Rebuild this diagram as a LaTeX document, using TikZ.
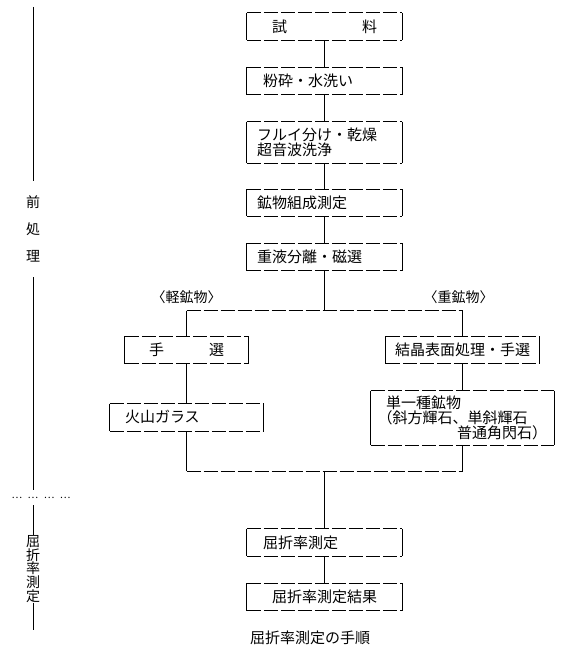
\documentclass[tikz,border=0pt]{standalone}
\usepackage{fontspec}
\newfontfamily\jpfont{Noto Sans CJK JP}
\usetikzlibrary{positioning}

\begin{document}
\begin{tikzpicture}[
    x=1pt, y=-1pt,
    every node/.style={font=\jpfont\fontsize{15}{12}\selectfont},
    node distance = 27pt,
    mbox/.style ={inner xsep=10pt, inner ysep=0pt, text width=135pt,
                  minimum height=27pt, align=left},
    sbox/.style ={inner ysep=0pt, minimum height=27pt, align=left},
    side/.style ={inner sep=0pt, align=center,
                  font=\jpfont\fontsize{14}{27}\selectfont},
    tag/.style  ={inner sep=0pt, font=\jpfont\fontsize{14}{14}\selectfont},
    flow/.style ={line width=0.9pt},
    dline/.style={line width=0.9pt, dash pattern=on 14pt off 3pt},
]
\useasboundingbox (0,0) rectangle (568,658);

% main column
\node[mbox] (smp) at (324.5,26.5) {　試　　　　　料};
\node[mbox, below=of smp]   (crush) {\hspace*{6pt}粉砕・水洗い};
\node[mbox, below=of crush, minimum height=41pt] (sift)
     {フルイ分け・乾燥\\超音波洗浄};
\node[mbox, below=26pt of sift] (comp) {鉱物組成測定};
\node[mbox, below=of comp]  (sep)  {重液分離・磁選};
\coordinate[below=40pt of sep] (fork);

% two branches
\node[tag] (light) at (186.5,297) {〈軽鉱物〉};
\node[tag] (heavy) at (458.5,297) {〈重鉱物〉};
\node[sbox, text width=123pt, inner xsep=0pt, align=center] (hand)
     at (186.5,350) {手　　　選};
\node[sbox, text width=123pt, inner xsep=15pt, below=40pt of hand] (glass)
     {火山ガラス};
\node[sbox, text width=135pt, inner xsep=9pt] (surf) at (462.5,350)
     {結晶表面処理・手選};
\node[sbox, text width=170pt, inner xsep=6.5pt, minimum height=54pt,
      below=of surf, font=\jpfont\fontsize{15}{13.5}\selectfont] (mono)
     {\hspace*{8.5pt}単一種鉱物\\（斜方輝石、単斜輝石\\\hspace*{79.5pt}普通角閃石）};
\coordinate (join) at (324.5,471);

% measurement
\node[mbox] (ri) at (324.5,542.5) {\hspace*{6pt}屈折率測定};
\node[mbox, below=of ri] (res) {　屈折率測定結果};
\node (cap) at (310,638) {屈折率測定の手順};

% left scale
\coordinate (top) at (33,7);
\node[side, minimum height=96pt] (pre) at (33,229) {前\\処\\理};
\node[tag, minimum height=15pt, font=\jpfont\fontsize{10}{10}\selectfont]
     (dots) at (41,497.5) {…\hspace{5.5pt}…\hspace{5.5pt}…\hspace{5.5pt}…};
\node[tag, align=center, font=\jpfont\fontsize{14}{13.6}\selectfont] (meas)
     at (33,569) {屈\\折\\率\\測\\定};
\coordinate (bot) at (33,630);

% box frames: dashed top and bottom, solid sides
\foreach \n in {smp,crush,sift,comp,sep,hand,glass,surf,mono,ri,res} {
  \draw[dline] (\n.north west) -- (\n.north east)
               (\n.south west) -- (\n.south east);
  \draw[flow]  (\n.north west) -- (\n.south west)
               (\n.north east) -- (\n.south east);
}

\draw[flow] (smp)   -- (crush);
\draw[flow] (crush) -- (sift);
\draw[flow] (sift)  -- (comp);
\draw[flow] (comp)  -- (sep);
\draw[flow] (sep)   -- (fork);
\draw[dline] (fork -| hand) -- (fork -| surf);
\draw[flow] (fork -| hand) -- (hand);
\draw[flow] (hand)  -- (glass);
\draw[flow] (glass) -- (glass |- join);
\draw[flow] (fork -| surf) -- (surf);
\draw[flow] (surf)  -- (mono);
\draw[flow] (mono)  -- (mono |- join);
\draw[dline] (glass |- join) -- (mono |- join);
\draw[flow] (join)  -- (ri);
\draw[flow] (ri)    -- (res);

\draw[flow] (top) -- (pre);
\draw[flow] (pre) -- (pre |- dots.north);
\draw[flow] (dots.south -| meas) -- (meas);
\draw[flow] (meas) -- (bot);
\end{tikzpicture}
\end{document}
